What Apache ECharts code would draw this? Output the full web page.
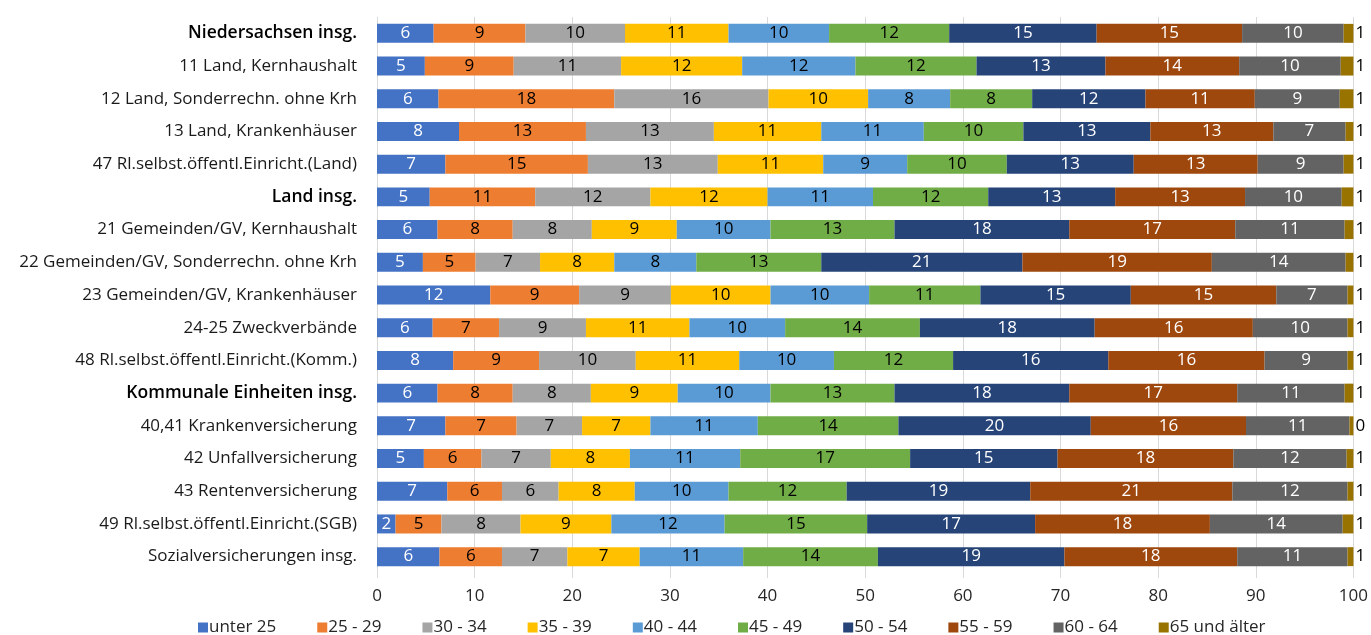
<!DOCTYPE html>
<html>
<head>
<meta charset="utf-8">
<script src="https://cdn.jsdelivr.net/npm/echarts@6/dist/echarts.min.js"></script>
<style>
  html, body { margin: 0; padding: 0; background: #fff; }
  #main { width: 1371px; height: 635px; }
</style>
</head>
<body>
<div id="main"></div>
<script>
// Kategorien (von oben nach unten)
var categories = [
    'Niedersachsen insg.',
    '11 Land, Kernhaushalt',
    '12 Land, Sonderrechn. ohne Krh',
    '13 Land, Krankenhäuser',
    '47 Rl.selbst.öffentl.Einricht.(Land)',
    'Land insg.',
    '21 Gemeinden/GV, Kernhaushalt',
    '22 Gemeinden/GV, Sonderrechn. ohne Krh',
    '23 Gemeinden/GV, Krankenhäuser',
    '24-25 Zweckverbände',
    '48 Rl.selbst.öffentl.Einricht.(Komm.)',
    'Kommunale Einheiten insg.',
    '40,41 Krankenversicherung',
    '42 Unfallversicherung',
    '43 Rentenversicherung',
    '49 Rl.selbst.öffentl.Einricht.(SGB)',
    'Sozialversicherungen insg.'
];
var boldRows = ['Niedersachsen insg.', 'Land insg.', 'Kommunale Einheiten insg.'];

var ageGroups = ['unter 25', '25 - 29', '30 - 34', '35 - 39', '40 - 44', '45 - 49', '50 - 54', '55 - 59', '60 - 64', '65 und älter'];

// Anteile in % je Altersgruppe
var unter25 = [5.8, 4.9, 6.3, 8.4, 7.0, 5.4, 6.2, 4.7, 11.6, 5.7, 7.8, 6.2, 7.0, 4.8, 7.2, 1.9, 6.4];
var a25_29 = [9.4, 9.1, 18.0, 13.0, 14.6, 10.8, 7.7, 5.4, 9.1, 6.8, 8.8, 7.7, 7.3, 5.9, 5.6, 4.7, 6.4];
var a30_34 = [10.2, 11.0, 15.8, 13.1, 13.3, 11.8, 8.1, 6.6, 9.4, 8.9, 9.9, 8.0, 6.7, 7.1, 5.8, 8.1, 6.7];
var a35_39 = [10.6, 12.4, 10.2, 11.0, 10.8, 12.0, 8.7, 7.6, 10.2, 10.6, 10.6, 8.9, 7.0, 8.1, 7.8, 9.3, 7.4];
var a40_44 = [10.3, 11.6, 8.4, 10.5, 8.6, 10.8, 9.6, 8.4, 10.1, 9.8, 9.7, 9.5, 11.0, 11.3, 9.6, 11.6, 10.6];
var a45_49 = [12.3, 12.4, 8.4, 10.2, 10.2, 11.8, 12.7, 12.8, 11.4, 13.8, 12.2, 12.7, 14.4, 17.4, 12.1, 14.6, 13.8];
var a50_54 = [15.1, 13.2, 11.6, 13.0, 13.0, 13.0, 17.9, 20.6, 15.4, 17.9, 15.9, 17.9, 19.7, 15.1, 18.8, 17.2, 19.1];
var a55_59 = [14.9, 13.7, 11.2, 12.6, 12.7, 13.3, 17.0, 19.4, 14.9, 16.2, 16.0, 17.2, 15.9, 18.0, 20.7, 17.9, 17.7];
var a60_64 = [10.4, 10.4, 8.7, 7.4, 8.8, 9.9, 11.2, 13.7, 7.3, 9.7, 8.5, 11.0, 10.6, 11.6, 11.8, 13.6, 11.3];
var a65plus = [1.0, 1.3, 1.4, 0.8, 1.0, 1.2, 0.9, 0.8, 0.6, 0.6, 0.6, 0.9, 0.4, 0.7, 0.6, 1.1, 0.6];

var seriesValues = [unter25, a25_29, a30_34, a35_39, a40_44, a45_49, a50_54, a55_59, a60_64, a65plus];
var colors = ['#4472C4', '#ED7D31', '#A5A5A5', '#FFC000', '#5B9BD5', '#70AD47', '#264478', '#9E480E', '#636363', '#997300'];
var labelColors = ['#fff', '#000', '#000', '#000', '#000', '#000', '#fff', '#fff', '#fff', '#000'];

var font = '"Open Sans", "Noto Sans", sans-serif';

var myChart = echarts.init(document.getElementById('main'));

var series = ageGroups.map(function (name, i) {
    var last = i === ageGroups.length - 1;
    return {
        name: name,
        type: 'bar',
        stack: 'total',
        barWidth: '58%',
        data: seriesValues[i],
        itemStyle: { color: colors[i] },
        label: {
            show: true,
            position: last ? 'right' : 'inside',
            distance: 2,
            color: labelColors[i],
            fontFamily: font,
            fontSize: 17,
            formatter: function (p) { return Math.round(p.value); }
        }
    };
});

var option = {
    color: colors,
    animation: false,
    textStyle: { fontFamily: font },
    grid: { left: 377, right: 14, top: 17, bottom: 62, containLabel: false },
    legend: {
        data: ageGroups,
        left: 193,
        top: 614,
        icon: 'rect',
        itemWidth: 10,
        itemHeight: 10,
        itemGap: 41,
        textStyle: { fontFamily: font, fontSize: 17, color: '#262626', padding: [0, 0, 0, -4] }
    },
    xAxis: {
        type: 'value',
        min: 0,
        max: 100,
        interval: 10,
        axisLine: { show: false },
        axisTick: { show: true, length: 5, lineStyle: { color: '#d9d9d9' } },
        splitLine: { show: true, lineStyle: { color: '#d9d9d9', width: 1 } },
        axisLabel: { color: '#262626', fontSize: 17, fontFamily: font, margin: 15 }
    },
    yAxis: {
        type: 'category',
        inverse: true,
        data: categories,
        axisLine: { show: false },
        axisTick: { show: false },
        axisLabel: {
            margin: 20,
            fontFamily: font,
            fontSize: 17,
            color: '#1a1a1a',
            formatter: function (v) {
                return boldRows.indexOf(v) >= 0 ? '{b|' + v + '}' : v;
            },
            rich: {
                b: { fontFamily: font, fontSize: 17.5, fontWeight: 600, color: '#000' }
            }
        }
    },
    series: series
};

myChart.setOption(option);
</script>
</body>
</html>
